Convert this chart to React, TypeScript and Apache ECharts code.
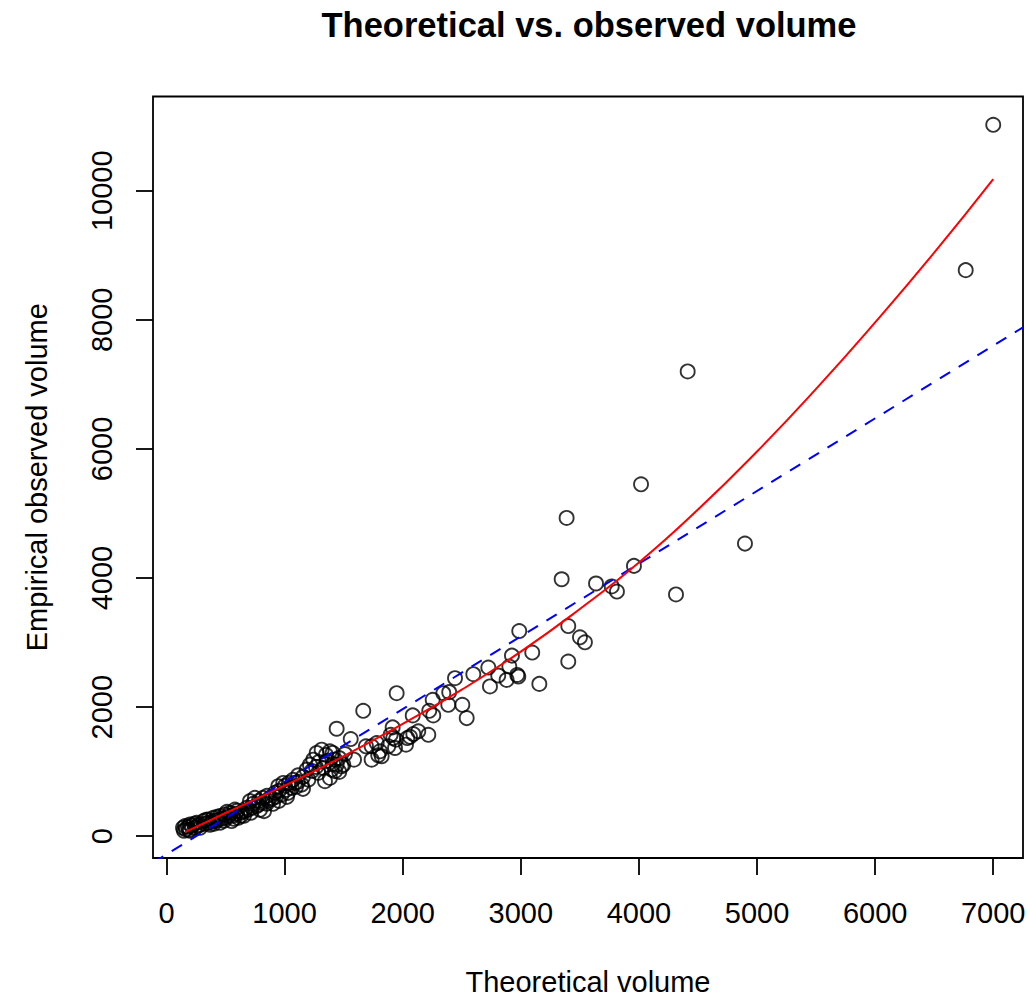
import React, { useEffect, useRef } from "react";
import * as echarts from "echarts";

// Observed points (theoretical volume, empirical observed volume)
const obsX = [
  7000, 6767, 4413, 4018, 3388, 4898, 3346, 3637, 3958, 3770, 3814, 4314, 3402, 2987, 3501, 3543, 3097, 3402, 2925, 2903,
  2970, 2979, 2880, 3157, 2809, 2725, 2598, 2739, 2443, 2394, 2344, 1949, 2254, 2386, 2505, 2542, 2225, 2259, 2085, 1666,
  1441, 1560, 1915, 2217, 2132, 2090, 2062, 2039, 2028, 1943, 1920, 1898, 1878, 1935, 1808, 1822, 1780, 1737, 1689, 1737,
  1793, 1588, 1497, 1441, 1427, 1463, 1407, 1384,
  1314, 1272, 1384, 1427, 1243, 1483, 1328, 1399, 1285, 1342, 1215, 1187, 1116, 1145, 1088, 1060, 1201, 989, 947, 919,
  975, 876, 848, 826, 749, 707, 764, 679, 628, 580, 538, 495, 453, 396, 354, 312, 256, 199, 157, 165, 608, 552,
  140, 182, 216, 191, 241, 267, 284, 326, 351, 385, 411, 436, 470, 504, 529, 563, 588, 639, 665, 690,
  724, 775, 809, 859, 893, 927, 1012, 1029, 792, 656, 284, 368, 453, 199, 148, 233, 334, 428, 512, 597,
  732, 817, 851, 953, 1003, 1037, 1071, 1113, 1156, 1232, 1266, 1291, 1359, 1410, 1461, 1511, 1350, 1156, 1096, 1020,
  902, 953, 783, 715, 631, 572, 487, 402,
];
const obsY = [
  11020, 8769, 7200, 5452, 4930, 4533, 3981, 3915, 4188, 3869, 3791, 3745, 3256, 3178, 3081, 3004, 2845, 2706, 2798, 2629,
  2499, 2474, 2422, 2360, 2490, 2613, 2510, 2320, 2448, 2232, 2216, 2216, 2113, 2036, 2036, 1830, 1943, 1872, 1872, 1943,
  1665, 1506, 1686, 1572, 1625, 1583, 1541, 1521, 1418, 1495, 1521, 1572, 1393, 1367, 1316, 1239, 1444, 1393, 1393, 1186,
  1254, 1186, 1109, 1109, 1007, 996, 1290, 903,
  1341, 1290, 1316, 1186, 1186, 1084, 1058, 1032, 981, 853, 1109, 1032, 945, 800, 826, 749, 877, 826, 775, 672,
  646, 595, 502, 389, 595, 544, 466, 440, 363, 414, 363, 337, 312, 286, 259, 235, 208, 182, 158, 105, 286, 235,
  131, 147, 162, 100, 131, 162, 178, 193, 208, 224, 239, 255, 270, 286, 317, 317, 347, 378, 394, 409,
  440, 486, 517, 548, 579, 610, 718, 672, 409, 317, 131, 178, 208, 85, 85, 193, 255, 301, 378, 394,
  502, 595, 625, 703, 780, 826, 873, 842, 919, 1012, 1073, 1151, 1166, 1120, 1212, 1274, 1259, 734, 764, 610,
  502, 548, 548, 363, 317, 270, 239, 193,
];

// Fitted (red) curve
const fitX = [157, 500, 1000, 1500, 2000, 2500, 3000, 3500, 4000, 4500, 5000, 5500, 6000, 6500, 7000];
const fitY = [65, 360, 785, 1240, 1740, 2270, 2860, 3520, 4240, 5060, 5960, 6930, 7960, 9040, 10180];

// Linear (blue dashed) reference line
const lineIntercept = -282;
const lineSlope = 1.126;

// Axis ticks
const xTicks = [0, 1000, 2000, 3000, 4000, 5000, 6000, 7000];
const yTicks = [0, 2000, 4000, 6000, 8000, 10000];
const X_MIN = -114;
const X_MAX = 7252;
const Y_MIN = -337;
const Y_MAX = 11459;

const FONT = '"Liberation Sans", Arial, Helvetica, sans-serif';

export default function App() {
  const ref = useRef<HTMLDivElement>(null);
  useEffect(() => {
    document.body.style.margin = "0";
    if (!ref.current) return;
    const chart = echarts.init(ref.current, null, { renderer: "svg" });
    const points = obsX.map((x, i) => [x, obsY[i]]);
    const fit = fitX.map((x, i) => [x, fitY[i]]);
    const lin = [
      [X_MIN, lineIntercept + lineSlope * X_MIN],
      [X_MAX, lineIntercept + lineSlope * X_MAX],
    ];
    chart.setOption({
      animation: false,
      backgroundColor: "#ffffff",
      title: {
        text: "Theoretical vs. observed volume",
        left: 589,
        top: 7,
        padding: 0,
        textAlign: "center",
        textStyle: { fontFamily: FONT, fontWeight: "bold", fontSize: 34.5, color: "#000" },
      },
      grid: {
        left: 153,
        top: 96.5,
        width: 870,
        height: 764,
        show: true,
        borderColor: "#000",
        borderWidth: 1.8,
        backgroundColor: "transparent",
      },
      xAxis: {
        type: "value",
        min: X_MIN,
        max: X_MAX,
        name: "Theoretical volume",
        nameLocation: "middle",
        nameGap: 109,
        nameTextStyle: { fontFamily: FONT, fontSize: 29, color: "#000" },
        axisLine: { show: false, onZero: false },
        splitLine: { show: false },
        axisTick: { show: true, customValues: xTicks, length: 17, lineStyle: { color: "#000", width: 1.8 } },
        axisLabel: {
          customValues: xTicks,
          margin: 40,
          fontFamily: FONT,
          fontSize: 29,
          color: "#000",
          formatter: (v: number) => String(v),
        },
      },
      yAxis: {
        type: "value",
        min: Y_MIN,
        max: Y_MAX,
        name: "Empirical observed volume",
        nameLocation: "middle",
        nameGap: 102,
        nameRotate: 90,
        nameTextStyle: { fontFamily: FONT, fontSize: 29, color: "#000" },
        axisLine: { show: false, onZero: false },
        splitLine: { show: false },
        axisTick: { show: true, customValues: yTicks, length: 17, lineStyle: { color: "#000", width: 1.8 } },
        axisLabel: {
          customValues: yTicks,
          rotate: 90,
          margin: 37,
          fontFamily: FONT,
          fontSize: 29,
          color: "#000",
          formatter: (v: number) => String(v),
        },
      },
      series: [
        {
          type: "scatter",
          data: points,
          symbol: "circle",
          symbolSize: 14,
          itemStyle: { color: "rgba(0,0,0,0)", borderColor: "#000", borderWidth: 1.9 },
          z: 2,
        },
        {
          type: "line",
          data: lin,
          showSymbol: false,
          symbol: "none",
          clip: true,
          lineStyle: { color: "#0000ff", width: 2, type: [12, 10] },
          z: 3,
        },
        {
          type: "line",
          data: fit,
          smooth: true,
          showSymbol: false,
          symbol: "none",
          clip: true,
          lineStyle: { color: "#ff0000", width: 2 },
          z: 4,
        },
      ],
    });
    return () => chart.dispose();
  }, []);
  return <div ref={ref} style={{ width: 1030, height: 1001 }} />;
}
